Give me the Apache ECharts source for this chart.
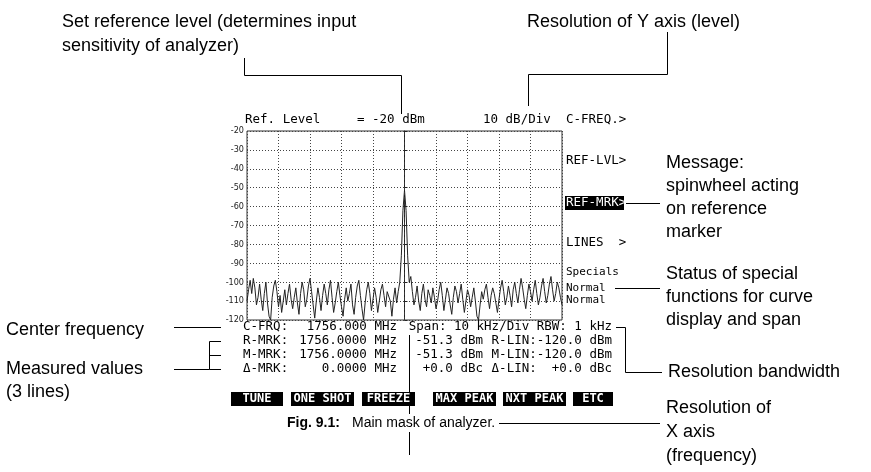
<!DOCTYPE html>
<html>
<head>
<meta charset="utf-8">
<script src="https://cdn.jsdelivr.net/npm/echarts@6/dist/echarts.min.js"></script>
<style>
  html, body { margin: 0; padding: 0; background: #fff; }
  #chart { width: 871px; height: 472px; }
</style>
</head>
<body>
<div id="chart"></div>
<script>
// trace: level in dBm, sampled every 0.5 kHz from -50 kHz to +50 kHz around the centre
var levels = [
  -110,-104,-99,-106,-98,-103,-112,-108,-101,-109,
  -115,-106,-100,-111,-118,-120,-108,-102,-99,-105,
  -113,-107,-116,-110,-104,-112,-106,-101,-109,-114,
  -108,-103,-111,-117,-106,-100,-104,-113,-109,-102,
  -98,-105,-112,-119,-110,-103,-108,-115,-107,-101,
  -106,-112,-104,-99,-108,-116,-111,-105,-100,-107,
  -113,-118,-109,-103,-110,-106,-101,-112,-117,-108,
  -102,-99,-107,-114,-120,-111,-104,-100,-106,-115,
  -109,-103,-108,-116,-110,-104,-101,-107,-113,-105,
  -104,-110,-118,-109,-103,-111,-105,-100,-86,-62,
  -51.3,
  -62,-86,-100,-97,-105,-112,-108,-102,-110,-115,
  -106,-101,-109,-113,-104,-107,-111,-103,-108,-114,
  -110,-104,-100,-107,-115,-109,-103,-106,-112,-117,
  -108,-102,-105,-111,-106,-101,-109,-116,-110,-104,
  -107,-113,-108,-103,-110,-118,-120,-112,-105,-109,
  -104,-101,-108,-114,-107,-103,-106,-111,-116,-109,
  -103,-99,-105,-112,-108,-102,-107,-113,-104,-100,
  -106,-111,-104,-98,-103,-109,-114,-107,-101,-105,
  -110,-104,-99,-106,-112,-108,-102,-98,-105,-111,
  -107,-101,-97,-104,-110,-106,-100,-103,-108,-112
];
var freqStart = -50, freqStep = 0.5;
var markerFreq = 0;

var menuItems = ['C-FREQ.>', 'REF-LVL>', 'REF-MRK>', 'LINES  >'];
var specials = ['Specials', 'Normal', 'Normal'];
var softKeys = ['TUNE', 'ONE SHOT', 'FREEZE', 'MAX PEAK', 'NXT PEAK', 'ETC'];
var statusRows = [
  ['C-FRQ:', '1756.000 MHz', 'Span: 10 kHz/Div RBW: 1 kHz'],
  ['R-MRK:', '1756.0000 MHz', '-51.3 dBm', 'R-LIN:-120.0 dBm'],
  ['M-MRK:', '1756.0000 MHz', '-51.3 dBm', 'M-LIN:-120.0 dBm'],
  ['\u0394-MRK:', '0.0000 MHz', '+0.0 dBc', '\u0394-LIN:  +0.0 dBc']
];

var chart = echarts.init(document.getElementById('chart'));

var MONO = '"DejaVu Sans Mono", "Liberation Mono", monospace';
var SANS = '"Liberation Sans", Arial, sans-serif';
var SCR = '12.5px ' + MONO;

function txt(x, y, s, opt) {
  opt = opt || {};
  return {
    type: 'text', z: 10,
    style: {
      x: x, y: y, text: s,
      font: opt.font || SCR,
      fill: opt.fill || '#000',
      align: opt.align || 'left',
      verticalAlign: 'middle'
    }
  };
}
function pl(points) {
  return {
    type: 'polyline', z: 5,
    shape: { points: points },
    style: { stroke: '#000', lineWidth: 1, fill: null }
  };
}

var g = [];
// header
g.push(txt(245, 120, 'Ref. Level'));
g.push(txt(357, 120, '= -20 dBm'));
g.push(txt(483, 120, '10 dB/Div'));

// right menu
var menuY = [120, 161, 203, 243];
menuItems.forEach(function (m, i) {
  if (i === 2) {
    g.push({ type: 'rect', z: 8, shape: { x: 565, y: menuY[i] - 7, width: 59, height: 14 }, style: { fill: '#000' } });
    g.push(txt(566, menuY[i], m, { fill: '#fff' }));
  } else {
    g.push(txt(566, menuY[i], m));
  }
});
var specY = [272, 288, 300];
specials.forEach(function (s, i) { g.push(txt(566, specY[i], s, { font: '11px ' + MONO })); });

// status rows
var rowY = [327, 341, 355, 369];
g.push(txt(243, rowY[0], statusRows[0][0]));
g.push(txt(397, rowY[0], statusRows[0][1], { align: 'right' }));
g.push(txt(612, rowY[0], statusRows[0][2], { align: 'right' }));
for (var r = 1; r < 4; r++) {
  g.push(txt(243, rowY[r], statusRows[r][0]));
  g.push(txt(397, rowY[r], statusRows[r][1], { align: 'right' }));
  g.push(txt(483, rowY[r], statusRows[r][2], { align: 'right' }));
  g.push(txt(612, rowY[r], statusRows[r][3], { align: 'right' }));
}

// soft keys
var keyX = [[231, 283], [291, 354], [362, 415], [433, 496], [503, 566], [573, 613]];
softKeys.forEach(function (k, i) {
  g.push({ type: 'rect', z: 8, shape: { x: keyX[i][0], y: 392, width: keyX[i][1] - keyX[i][0], height: 14 }, style: { fill: '#000' } });
  g.push(txt((keyX[i][0] + keyX[i][1]) / 2, 399, k, { fill: '#fff', align: 'center', font: 'bold 12px ' + MONO }));
});

// caption
g.push({ type: 'rect', z: 9, shape: { x: 284, y: 414, width: 215, height: 18 }, style: { fill: '#fff' } });
g.push(txt(287, 423, 'Fig. 9.1:', { font: 'bold 14px ' + SANS }));
g.push(txt(352, 423, 'Main mask of analyzer.', { font: '14px ' + SANS }));

// annotations
var A = '18px ' + SANS;
g.push(txt(62, 22, 'Set reference level (determines input', { font: A }));
g.push(txt(62, 46, 'sensitivity of analyzer)', { font: A }));
g.push(txt(527, 22, 'Resolution of Y axis (level)', { font: A }));
['Message:', 'spinwheel acting', 'on reference', 'marker'].forEach(function (s, i) {
  g.push(txt(666, 163 + i * 23, s, { font: A }));
});
['Status of special', 'functions for curve', 'display and span'].forEach(function (s, i) {
  g.push(txt(666, 274 + i * 23, s, { font: A }));
});
g.push(txt(6, 330, 'Center frequency', { font: A }));
g.push(txt(6, 369, 'Measured values', { font: A }));
g.push(txt(6, 392, '(3 lines)', { font: A }));
g.push(txt(668, 372, 'Resolution bandwidth', { font: A }));
['Resolution of', 'X axis', '(frequency)'].forEach(function (s, i) {
  g.push(txt(666, 408 + i * 24, s, { font: A }));
});

// leader lines
g.push(pl([[244.5, 58], [244.5, 75.5], [401.5, 75.5], [401.5, 114]]));
g.push(pl([[667.5, 32], [667.5, 74.5], [528.5, 74.5], [528.5, 106]]));
g.push(pl([[626, 203.5], [660, 203.5]]));
g.push(pl([[615, 288.5], [660, 288.5]]));
g.push(pl([[174, 327.5], [221, 327.5]]));
g.push(pl([[221, 341.5], [209.5, 341.5], [209.5, 369.5], [221, 369.5]]));
g.push(pl([[209.5, 355.5], [221, 355.5]]));
g.push(pl([[174, 369.5], [209.5, 369.5]]));
g.push(pl([[616, 327.5], [625.5, 327.5], [625.5, 372.5], [662, 372.5]]));
g.push(pl([[409.5, 335], [409.5, 455]]));
g.push(pl([[498, 423.5], [660, 423.5]]));

var data = levels.map(function (v, i) { return [freqStart + i * freqStep, v]; });

chart.setOption({
  animation: false,
  backgroundColor: '#fff',
  grid: { left: 247, top: 131, width: 315, height: 189, show: true, borderColor: '#333', borderWidth: 1 },
  xAxis: {
    type: 'value', min: -50, max: 50, interval: 10,
    axisLabel: { show: false }, axisTick: { show: false },
    axisLine: { show: false },
    splitLine: { lineStyle: { type: [1, 2], color: '#444' } }
  },
  yAxis: {
    type: 'value', min: -120, max: -20, interval: 10,
    axisLine: { show: true, lineStyle: { color: '#222' } },
    axisTick: { show: true, inside: true, length: 3, lineStyle: { color: '#222' } },
    axisLabel: { fontSize: 9, color: '#222', margin: 3, fontFamily: '"Liberation Sans Narrow", "DejaVu Sans Condensed", sans-serif' },
    splitLine: { lineStyle: { type: [1, 2], color: '#444' } }
  },
  series: [{
    type: 'line', data: data, symbol: 'none',
    lineStyle: { color: '#222', width: 1 },
    markLine: {
      silent: true, symbol: 'none', label: { show: false },
      lineStyle: { color: '#333', type: [3, 2], width: 1 },
      data: [{ xAxis: markerFreq }]
    }
  }],
  graphic: g
});
</script>
</body>
</html>
